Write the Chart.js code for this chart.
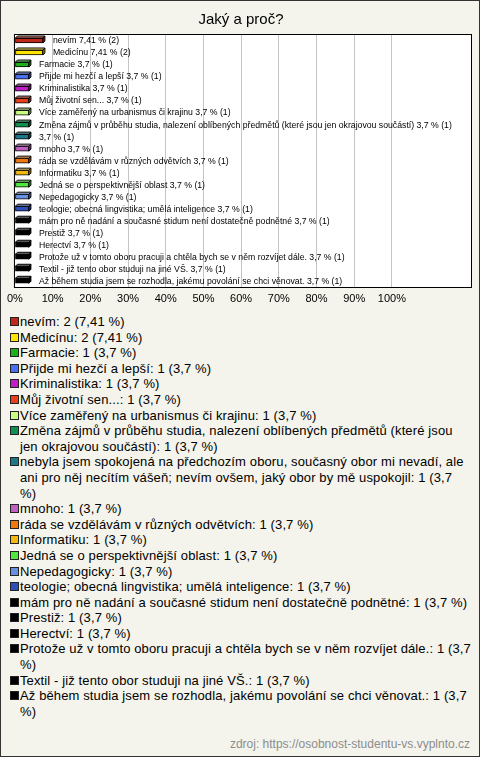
<!DOCTYPE html>
<html lang="cs">
<head>
<meta charset="utf-8">
<title>Jaký a proč?</title>
<script src="https://cdn.jsdelivr.net/npm/chart.js@4/dist/chart.umd.min.js"></script>
<style>
    html, body { margin: 0; padding: 0; background: #fff; }
    .frame {
        box-sizing: border-box;
        width: 480px;
        height: 757px;
        border: 1px solid #333;
        background: #f4f4ec;
        position: relative;
        font-family: "Liberation Sans", Arial, sans-serif;
        color: #000;
    }
    #chart { display: block; }
    #legend {
        list-style: none;
        margin: 2px 8px 0 9px;
        padding: 0;
        font-size: 13px;
        line-height: 15.6px;
        letter-spacing: 0.12px;
    }
    #legend li { display: flex; align-items: flex-start; }
    #legend .swatch {
        flex: none;
        box-sizing: border-box;
        width: 9px;
        height: 9px;
        margin: 3px 1px 0 0;
        border: 1px solid #222;
    }
    #source {
        position: absolute;
        right: 9px;
        top: 736px;
        font-size: 12px;
        color: #8c8c8c;
    }
</style>
</head>
<body>
<div class="frame">
    <canvas id="chart" width="478" height="311"></canvas>
    <ul id="legend"></ul>
    <div id="source">zdroj: https://osobnost-studentu-vs.vyplnto.cz</div>
</div>
<script>
const categories = [
    'nevím',
    'Medicínu',
    'Farmacie',
    'Přijde mi hezčí a lepší',
    'Kriminalistika',
    'Můj životní sen...',
    'Více zaměřený na urbanismus či krajinu',
    'Změna zájmů v průběhu studia, nalezení oblíbených předmětů (které jsou jen okrajovou součástí)',
    'nebyla jsem spokojená na předchozím oboru, současný obor mi nevadí, ale ani pro něj necítím vášeň; nevím ovšem, jaký obor by mě uspokojil',
    'mnoho',
    'ráda se vzdělávám v různých odvětvích',
    'Informatiku',
    'Jedná se o perspektivnější oblast',
    'Nepedagogicky',
    'teologie; obecná lingvistika; umělá inteligence',
    'mám pro ně nadání a současné stidum není dostatečně podnětné',
    'Prestiž',
    'Herectví',
    'Protože už v tomto oboru pracuji a chtěla bych se v něm rozvíjet dále.',
    'Textil - již tento obor studuji na jiné VŠ.',
    'Až během studia jsem se rozhodla, jakému povolání se chci věnovat.'
];
const counts = [2, 2, 1, 1, 1, 1, 1, 1, 1, 1, 1, 1, 1, 1, 1, 1, 1, 1, 1, 1, 1];
const percents = [7.41, 7.41, 3.7, 3.7, 3.7, 3.7, 3.7, 3.7, 3.7, 3.7, 3.7, 3.7, 3.7, 3.7, 3.7, 3.7, 3.7, 3.7, 3.7, 3.7, 3.7];
const colors = [
    '#c0281c', '#ffe400', '#1cb01c', '#4a70f0', '#c01cc8', '#e8401c', '#c8ff80',
    '#109050', '#1c7888', '#c060c0', '#f07810', '#f0b810', '#50e840', '#6890e0',
    '#2c50b8', '#000000', '#000000', '#000000', '#000000', '#000000', '#000000'
];
const tickValues = [0, 10, 20, 30, 40, 50, 60, 70, 80, 90, 100];

const fontFamily = '"Liberation Sans", Arial, sans-serif';
Chart.defaults.font.family = fontFamily;
Chart.defaults.color = '#000';

function pctText(v) {
    return String(v).replace('.', ',');
}

function shade(hex, amount) {
    const n = parseInt(hex.slice(1), 16);
    const target = amount > 0 ? 255 : 0;
    const k = Math.abs(amount);
    const mix = c => Math.round(c + (target - c) * k);
    const r = mix((n >> 16) & 255), g = mix((n >> 8) & 255), b = mix(n & 255);
    return `rgb(${r},${g},${b})`;
}

// white plot area with a black frame
const plotBoxPlugin = {
    id: 'plotBox',
    beforeDraw(chart) {
        const { ctx, chartArea: a } = chart;
        ctx.save();
        ctx.fillStyle = '#fff';
        ctx.fillRect(a.left - 1, a.top, a.right - a.left + 1, a.bottom - a.top);
        ctx.restore();
    },
    afterDraw(chart) {
        const { ctx, chartArea: a } = chart;
        ctx.save();
        ctx.strokeStyle = '#000';
        ctx.lineWidth = 1;
        ctx.strokeRect(a.left - 0.5, Math.round(a.top) - 0.5, a.right - a.left + 1, Math.round(a.bottom - a.top) + 1);
        ctx.restore();
    }
};

// top and side faces to give the bars their 3D look
const bar3dPlugin = {
    id: 'bar3d',
    afterDatasetsDraw(chart) {
        const c = chart.ctx;
        const d = 2;
        chart.getDatasetMeta(0).data.forEach((bar, i) => {
            const p = bar.getProps(['x', 'y', 'base', 'height'], true);
            const top = p.y - p.height / 2;
            const bot = p.y + p.height / 2;
            c.save();
            c.lineWidth = 1;
            c.strokeStyle = '#000';
            c.beginPath();
            c.moveTo(p.base, top);
            c.lineTo(p.base + d, top - d);
            c.lineTo(p.x + d, top - d);
            c.lineTo(p.x, top);
            c.closePath();
            c.fillStyle = shade(colors[i], 0.45);
            c.fill();
            c.stroke();
            c.beginPath();
            c.moveTo(p.x, top);
            c.lineTo(p.x + d, top - d);
            c.lineTo(p.x + d, bot - d);
            c.lineTo(p.x, bot);
            c.closePath();
            c.fillStyle = shade(colors[i], -0.3);
            c.fill();
            c.stroke();
            c.restore();
        });
    }
};

// text next to each bar
const barLabelPlugin = {
    id: 'barLabels',
    afterDatasetsDraw(chart) {
        const c = chart.ctx;
        c.save();
        c.font = `8.7px ${fontFamily}`;
        c.fillStyle = '#000';
        c.textBaseline = 'middle';
        chart.getDatasetMeta(0).data.forEach((bar, i) => {
            const name = categories[i].length > 110 ? '' : categories[i] + ' ';
            const text = `${name}${pctText(percents[i])} % (${counts[i]})`;
            c.fillText(text, bar.x + 10, bar.y + 0.5);
        });
        c.restore();
    }
};

const ctx = document.getElementById('chart').getContext('2d');

new Chart(ctx, {
    type: 'bar',
    data: {
        labels: categories,
        datasets: [{
            data: percents,
            backgroundColor: colors,
            borderColor: '#000',
            borderWidth: 1,
            borderSkipped: false,
            barThickness: 5
        }]
    },
    options: {
        indexAxis: 'y',
        responsive: false,
        animation: false,
        layout: { padding: { left: 10, right: 8, top: 0, bottom: 0 } },
        plugins: {
            legend: { display: false },
            tooltip: { enabled: false },
            title: {
                display: true,
                text: 'Jaký a proč?',
                color: '#000',
                font: { size: 15, weight: 'normal' },
                padding: { top: 10, bottom: 5.5 }
            }
        },
        scales: {
            x: {
                min: 0,
                max: 121,
                afterBuildTicks: scale => {
                    scale.ticks = tickValues.map(v => ({ value: v }));
                },
                ticks: {
                    callback: v => v + '%',
                    font: { size: 11 },
                    padding: 6,
                    maxRotation: 0,
                    autoSkip: false
                },
                grid: { color: '#c4c4c4', drawTicks: false },
                border: { display: false }
            },
            y: { display: false, offset: true }
        }
    },
    plugins: [plotBoxPlugin, bar3dPlugin, barLabelPlugin]
});

// legend below the chart
const legendEl = document.getElementById('legend');
categories.forEach((name, i) => {
    const li = document.createElement('li');
    li.innerHTML = `<span class="swatch" style="background:${colors[i]}"></span><span>${name}: ${counts[i]} (${pctText(percents[i])} %)</span>`;
    legendEl.appendChild(li);
});
</script>
</body>
</html>
